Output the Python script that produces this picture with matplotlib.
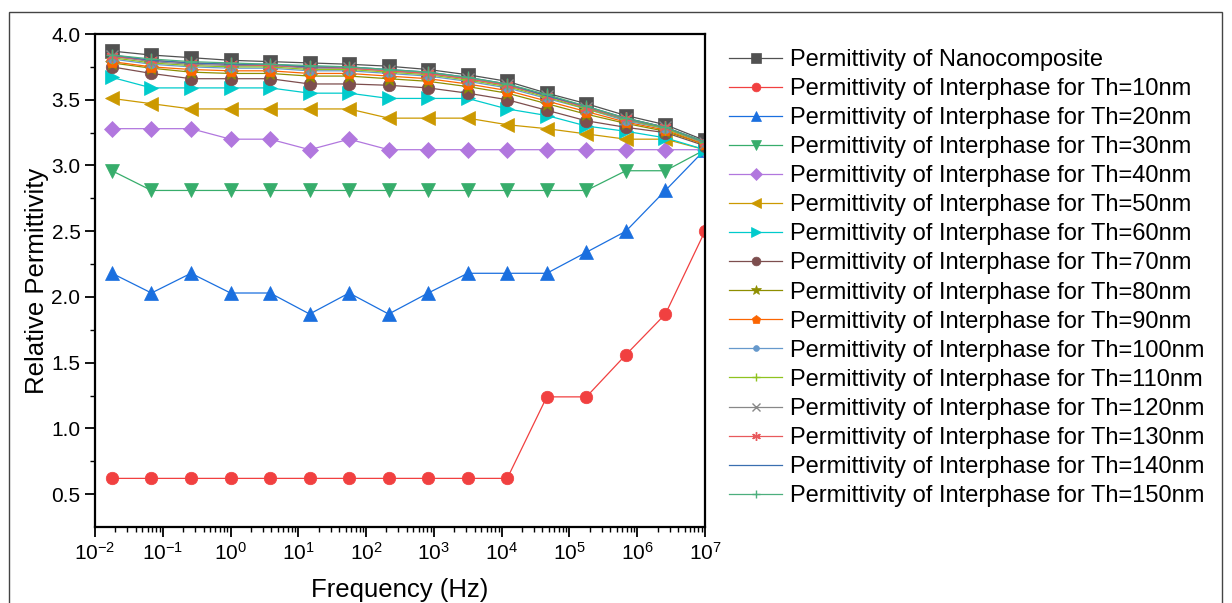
import matplotlib
matplotlib.use('Agg')
import matplotlib.pyplot as plt
from matplotlib.patches import Rectangle

plt.rcParams['font.family'] = ['Liberation Sans', 'DejaVu Sans']
plt.rcParams['mathtext.default'] = 'regular'
plt.rcParams['axes.unicode_minus'] = False

# frequency points (Hz)
freq = [0.0178, 0.0681, 0.261, 1.0, 3.83, 14.7, 56.2, 215, 825, 3160,
        12100, 46400, 178000, 681000, 2610000, 10000000]

nano = [3.87, 3.84, 3.82, 3.80, 3.79, 3.78, 3.77, 3.755, 3.73, 3.69, 3.64, 3.55, 3.47, 3.38, 3.31, 3.19]
th10 = [0.62, 0.62, 0.62, 0.62, 0.62, 0.62, 0.62, 0.62, 0.62, 0.62, 0.62, 1.24, 1.24, 1.56, 1.87, 2.50]
th20 = [2.18, 2.03, 2.18, 2.03, 2.03, 1.87, 2.03, 1.87, 2.03, 2.18, 2.18, 2.18, 2.34, 2.50, 2.81, 3.12]
th30 = [2.96, 2.81, 2.81, 2.81, 2.81, 2.81, 2.81, 2.81, 2.81, 2.81, 2.81, 2.81, 2.81, 2.96, 2.96, 3.12]
th40 = [3.28, 3.28, 3.28, 3.20, 3.20, 3.12, 3.20, 3.12, 3.12, 3.12, 3.12, 3.12, 3.12, 3.12, 3.12, 3.12]
th50 = [3.51, 3.47, 3.43, 3.43, 3.43, 3.43, 3.43, 3.36, 3.36, 3.36, 3.31, 3.28, 3.24, 3.20, 3.20, 3.12]
th60 = [3.67, 3.59, 3.59, 3.59, 3.59, 3.55, 3.55, 3.51, 3.51, 3.51, 3.43, 3.38, 3.30, 3.26, 3.21, 3.12]
th70 = [3.75, 3.70, 3.66, 3.66, 3.66, 3.62, 3.62, 3.61, 3.59, 3.55, 3.50, 3.42, 3.34, 3.29, 3.25, 3.15]
th80 = [3.78, 3.74, 3.71, 3.70, 3.70, 3.68, 3.68, 3.66, 3.64, 3.60, 3.55, 3.47, 3.39, 3.32, 3.26, 3.16]
th90 = [3.79, 3.75, 3.73, 3.72, 3.72, 3.70, 3.70, 3.68, 3.66, 3.62, 3.57, 3.49, 3.41, 3.33, 3.27, 3.16]
th100 = [3.81, 3.77, 3.75, 3.74, 3.74, 3.72, 3.72, 3.70, 3.68, 3.64, 3.59, 3.51, 3.43, 3.34, 3.28, 3.17]
th110 = [3.82, 3.78, 3.76, 3.75, 3.75, 3.73, 3.73, 3.71, 3.69, 3.65, 3.60, 3.52, 3.43, 3.35, 3.28, 3.17]
th120 = [3.83, 3.79, 3.77, 3.76, 3.76, 3.74, 3.74, 3.72, 3.70, 3.66, 3.61, 3.53, 3.44, 3.35, 3.29, 3.17]
th130 = [3.83, 3.80, 3.78, 3.77, 3.76, 3.75, 3.74, 3.72, 3.70, 3.66, 3.61, 3.53, 3.44, 3.36, 3.29, 3.18]
th140 = [3.84, 3.80, 3.78, 3.77, 3.77, 3.75, 3.75, 3.73, 3.71, 3.67, 3.62, 3.53, 3.45, 3.36, 3.29, 3.18]
th150 = [3.84, 3.81, 3.79, 3.78, 3.77, 3.76, 3.75, 3.73, 3.71, 3.67, 3.62, 3.54, 3.45, 3.36, 3.29, 3.18]

labels = ['Permittivity of Nanocomposite'] + \
    ['Permittivity of Interphase for Th=%dnm' % t for t in range(10, 160, 10)]
series = [nano, th10, th20, th30, th40, th50, th60, th70, th80, th90,
          th100, th110, th120, th130, th140, th150]
colors = ['#515151', '#f14040', '#1a6fdf', '#37ad6b', '#b177de', '#cc9900',
          '#00cbcc', '#7d4e4e', '#8e8e00', '#fb6501', '#6699cc', '#8fc31f',
          '#888888', '#e8595c', '#3a6fb0', '#4caf7d']
markers = ['s', 'o', '^', 'v', 'D', '<', '>', 'o', '*', 'p', 'o', '+', 'x',
           (6, 2, 0), 'None', '+']
sizes = [9.5, 9, 9.5, 9.5, 8.5, 9.5, 9.5, 9, 10, 9, 6, 9, 8, 9, 0, 9]

fig = plt.figure(figsize=(12.32, 6.03), dpi=100)
ax = fig.add_axes([0.0771, 0.126, 0.4951, 0.8176])

for y, lab, c, m, s in zip(series, labels, colors, markers, sizes):
    ax.plot(freq, y, color=c, marker=m, markersize=s, lw=0.9, label=lab,
            markeredgewidth=1.0 if m in ('+', 'x', (6, 2, 0)) else 0.5)

ax.set_xscale('log')
ax.set_xlim(0.01, 1e7)
ax.set_ylim(0.25, 4.0)
ax.set_yticks([0.5, 1.0, 1.5, 2.0, 2.5, 3.0, 3.5, 4.0])
ax.set_yticks([0.75, 1.25, 1.75, 2.25, 2.75, 3.25, 3.75], minor=True)
ax.set_xticks([10.0 ** k for k in range(-2, 8)])
ax.tick_params(which='major', direction='out', length=7, width=1.3, labelsize=15)
ax.tick_params(which='minor', direction='out', length=3.5, width=1.0)
for sp in ax.spines.values():
    sp.set_linewidth(1.6)

ax.set_xlabel('Frequency (Hz)', fontsize=18.5)
ax.set_ylabel('Relative Permittivity', fontsize=18.5)
ax.xaxis.set_label_coords(0.5, -0.103)
ax.yaxis.set_label_coords(-0.075, 0.5)

ax.legend(loc='upper left', bbox_to_anchor=(0.5917, 0.919),
          bbox_transform=fig.transFigure, frameon=False, fontsize=17,
          handlelength=2.25, handletextpad=0.33, labelspacing=0.3,
          borderpad=0, borderaxespad=0, markerscale=0.7)

# outer frame around the whole picture
fig.patches.append(Rectangle((0.0073, -0.05), 0.9846, 1.03, transform=fig.transFigure,
                             fill=False, edgecolor='#444444', lw=1.0))

fig.savefig('out.png', dpi=100)
